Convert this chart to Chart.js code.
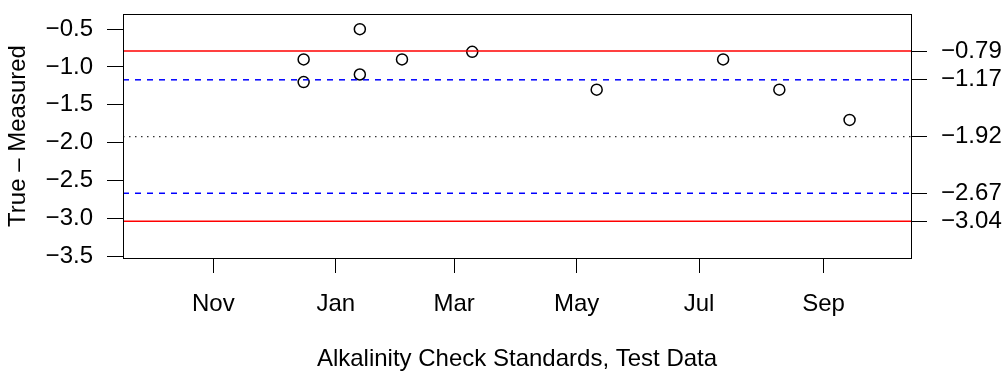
<!DOCTYPE html>
<html>
<head>
<meta charset="utf-8">
<script src="https://cdn.jsdelivr.net/npm/chart.js@4.4.1/dist/chart.umd.min.js"></script>
<style>
  html, body { margin: 0; padding: 0; background: #fff; }
  canvas { display: block; }
</style>
</head>
<body>
<canvas id="myChart" width="1005" height="374"></canvas>
<script>
// dates are turned into days since the first tick (1 Nov)
const originDate = '2012-11-01';
const monthTickDates = ['2012-11-01', '2013-01-01', '2013-03-01', '2013-05-01', '2013-07-01', '2013-09-01'];
const monthLabels = ['Nov', 'Jan', 'Mar', 'May', 'Jul', 'Sep'];

const sampleDates = ['2012-12-16', '2012-12-16', '2013-01-13', '2013-01-13', '2013-02-03',
                     '2013-03-10', '2013-05-11', '2013-07-13', '2013-08-10', '2013-09-14'];
const sampleDiffs = [-0.9, -1.2, -0.5, -1.1, -0.9, -0.8, -1.3, -0.9, -1.3, -1.7];

const yTicks = [-3.5, -3.0, -2.5, -2.0, -1.5, -1.0, -0.5];
const upperControl = -0.79;
const upperWarning = -1.17;
const centerLine = -1.92;
const lowerWarning = -2.67;
const lowerControl = -3.04;
const limitTicks = [upperControl, upperWarning, centerLine, lowerWarning, lowerControl];

const dayOf = (s) => (Date.parse(s) - Date.parse(originDate)) / 86400000;
const minus = (s) => s.replace('-', '\u2212');

const xMin = dayOf('2012-09-17');
const xMax = dayOf('2013-10-14') + 0.6;
const yMin = -3.526;
const yMax = -0.3;

const hLine = (v) => [{ x: xMin, y: v }, { x: xMax, y: v }];

const font = { family: 'Liberation Sans, Arial, sans-serif', size: 24 };

// no extra room for half labels, keep the box where R puts it
const noPad = (scale) => {
    scale.paddingTop = 0;
    scale.paddingBottom = 0;
    scale.paddingLeft = 0;
    scale.paddingRight = 0;
};

const boxPlugin = {
    id: 'box',
    afterDraw(chart) {
        const { ctx, chartArea: a } = chart;
        ctx.save();
        ctx.strokeStyle = '#000';
        ctx.lineWidth = 1;
        ctx.strokeRect(Math.round(a.left) + 0.5, Math.round(a.top) + 0.5,
            Math.round(a.right - a.left), Math.round(a.bottom - a.top));
        ctx.restore();
    }
};

const ctx = document.getElementById('myChart').getContext('2d');

new Chart(ctx, {
    type: 'scatter',
    data: {
        datasets: [
            { data: hLine(upperControl), showLine: true, borderColor: '#ff0000', borderWidth: 1.5, pointRadius: 0 },
            { data: hLine(lowerControl), showLine: true, borderColor: '#ff0000', borderWidth: 1.5, pointRadius: 0 },
            { data: hLine(upperWarning), showLine: true, borderColor: '#0000ff', borderWidth: 1.5, borderDash: [6, 6], pointRadius: 0 },
            { data: hLine(lowerWarning), showLine: true, borderColor: '#0000ff', borderWidth: 1.5, borderDash: [6, 6], pointRadius: 0 },
            { data: hLine(centerLine), showLine: true, borderColor: '#333333', borderWidth: 1.2, borderDash: [1.5, 4.5], pointRadius: 0 },
            {
                data: sampleDates.map((d, i) => ({ x: dayOf(d), y: sampleDiffs[i] })),
                showLine: false,
                pointStyle: 'circle',
                pointRadius: 5.5,
                pointBorderWidth: 1.5,
                pointBorderColor: '#000',
                pointBackgroundColor: 'rgba(0,0,0,0)'
            }
        ]
    },
    options: {
        responsive: false,
        animation: false,
        devicePixelRatio: 1,
        layout: { padding: { top: 14, left: 0, right: 0, bottom: 0 } },
        plugins: { legend: { display: false }, tooltip: { enabled: false } },
        scales: {
            x: {
                type: 'linear',
                position: 'bottom',
                min: xMin,
                max: xMax,
                afterBuildTicks: (scale) => { scale.ticks = monthTickDates.map((d) => ({ value: dayOf(d) })); },
                afterFit: (scale) => { scale.height = 116; noPad(scale); },
                ticks: {
                    color: '#000',
                    font: font,
                    padding: 17,
                    autoSkip: false,
                    maxRotation: 0,
                    callback: (v) => monthLabels[monthTickDates.map(dayOf).indexOf(v)]
                },
                grid: { drawOnChartArea: false, tickLength: 15, tickColor: '#000', tickWidth: 1 },
                border: { color: '#000', width: 1 },
                title: {
                    display: true,
                    text: 'Alkalinity Check Standards, Test Data',
                    color: '#000',
                    font: font,
                    padding: { top: 0, bottom: 0 }
                }
            },
            y: {
                type: 'linear',
                position: 'left',
                min: yMin,
                max: yMax,
                afterBuildTicks: (scale) => { scale.ticks = yTicks.map((v) => ({ value: v })); },
                afterFit: (scale) => { scale.width = 123; noPad(scale); },
                ticks: {
                    color: '#000',
                    font: font,
                    padding: 14,
                    callback: (v) => minus(v.toFixed(1))
                },
                grid: { drawOnChartArea: false, tickLength: 16, tickColor: '#000', tickWidth: 1 },
                border: { color: '#000', width: 1 },
                title: {
                    display: true,
                    text: 'True \u2013 Measured',
                    color: '#000',
                    font: font,
                    padding: { top: 4, bottom: 0 }
                }
            },
            y2: {
                type: 'linear',
                position: 'right',
                min: yMin,
                max: yMax,
                afterBuildTicks: (scale) => { scale.ticks = limitTicks.map((v) => ({ value: v })); },
                afterFit: (scale) => { scale.width = 94; noPad(scale); },
                ticks: {
                    color: '#000',
                    font: font,
                    padding: 14,
                    autoSkip: false,
                    callback: (v) => minus(v.toFixed(2))
                },
                grid: { drawOnChartArea: false, tickLength: 16, tickColor: '#000', tickWidth: 1 },
                border: { color: '#000', width: 1 }
            }
        }
    },
    plugins: [boxPlugin]
});
</script>
</body>
</html>
